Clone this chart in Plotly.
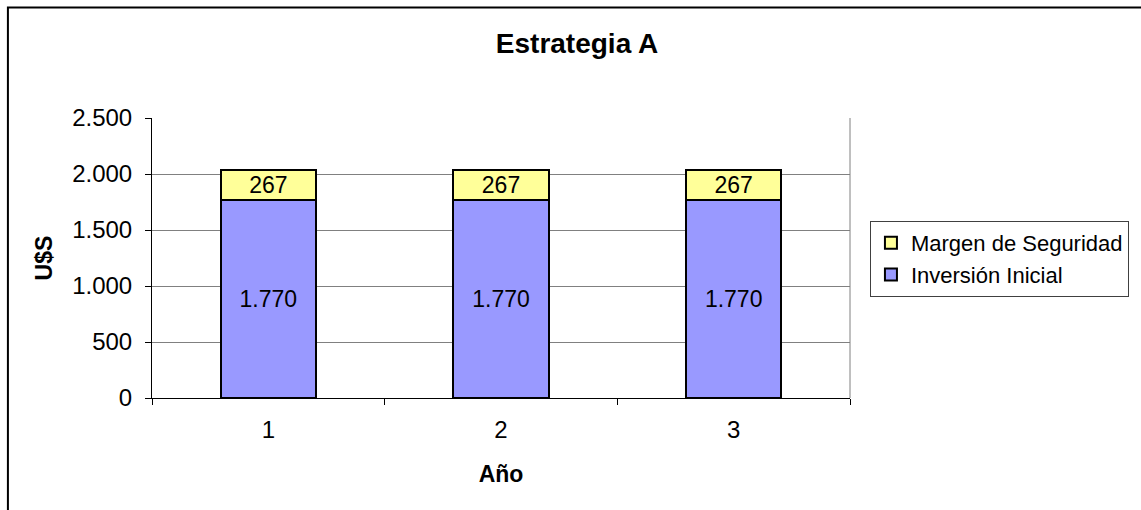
import plotly.graph_objects as go

# Datos del gráfico
anios = ["1", "2", "3"]
inversion_inicial = [1770, 1770, 1770]
margen_seguridad = [267, 267, 267]

FONT = "Liberation Sans, Arial, sans-serif"

fig = go.Figure()

fig.add_trace(go.Bar(
    x=anios, y=inversion_inicial, name="Inversión Inicial",
    marker=dict(color="#9999FF", line=dict(color="black", width=2)),
    width=0.41,
    texttemplate="%{y:,.0f}", textposition="inside", insidetextanchor="middle",
    textfont=dict(color="black", size=23, family=FONT),
    constraintext="none",
))
fig.add_trace(go.Bar(
    x=anios, y=margen_seguridad, name="Margen de Seguridad",
    marker=dict(color="#FFFF99", line=dict(color="black", width=2)),
    width=0.41,
    texttemplate="%{y:,.0f}", textposition="inside", insidetextanchor="middle",
    textfont=dict(color="black", size=23, family=FONT),
    constraintext="none",
))

L, R, T, B = 152, 289, 118, 112
W, H = 1141, 510
pw, ph = W - L - R, H - T - B

def px_x(x):
    return (x - L) / pw

def px_y(y):
    return (H - B - y) / ph

fig.update_layout(
    width=W, height=H,
    margin=dict(l=L, r=R, t=T, b=B),
    barmode="stack",
    separators=",.",
    paper_bgcolor="white", plot_bgcolor="white",
    font=dict(family=FONT, size=24, color="black"),
    title=dict(text="<b>Estrategia A</b>", xref="container", x=577 / W,
               xanchor="center", y=1 - 43 / H, yanchor="middle",
               font=dict(size=28)),
    showlegend=True,
    legend=dict(
        traceorder="reversed",
        x=px_x(872), xanchor="left", y=px_y(221), yanchor="top",
        bordercolor="#404040", borderwidth=1, bgcolor="white",
        font=dict(size=22), itemwidth=30,
    ),
    bargap=0.59,
)

fig.update_xaxes(
    type="category", range=[-0.5, 2.5],
    showline=True, linecolor="black", linewidth=1,
    ticks="outside", tickson="boundaries", ticklen=6, tickcolor="black",
    ticklabelstandoff=10,
    showgrid=False, zeroline=False,
    title=dict(text="<b>Año</b>", font=dict(size=23), standoff=24),
)
fig.update_yaxes(
    range=[0, 2500], dtick=500, tickformat=",.0f",
    showline=True, linecolor="black", linewidth=1,
    ticks="outside", ticklen=6, tickcolor="black",
    ticklabelstandoff=8,
    showgrid=True, gridcolor="#808080", gridwidth=1, zeroline=False,
    title=dict(text="<b>U$S</b>", font=dict(size=23), standoff=13),
)

# Borde derecho del área de trazado y marco exterior del gráfico
fig.add_shape(type="line", xref="paper", yref="paper", x0=1, x1=1, y0=0, y1=1,
              line=dict(color="#808080", width=1))
fig.add_shape(type="rect", xref="paper", yref="paper",
              x0=px_x(7.5), x1=px_x(W + 20), y0=px_y(H + 20), y1=px_y(7.5),
              line=dict(color="black", width=2), layer="above")

fig.write_html("out.html")
